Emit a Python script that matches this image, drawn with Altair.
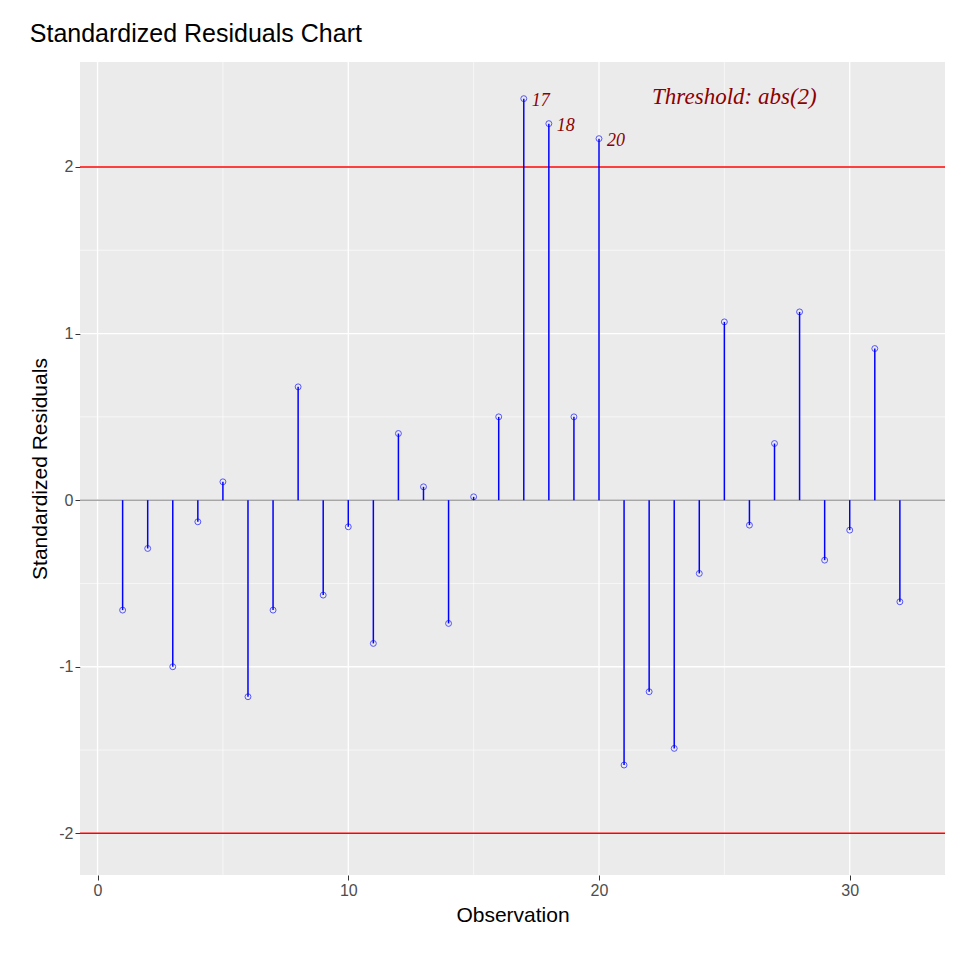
import altair as alt
import pandas as pd

obs = list(range(1, 33))
resid = [-0.66, -0.29, -1.0, -0.13, 0.11, -1.18, -0.66, 0.68, -0.57, -0.16,
         -0.86, 0.40, 0.08, -0.74, 0.02, 0.50, 2.41, 2.26, 0.50, 2.17,
         -1.59, -1.15, -1.49, -0.44, 1.07, -0.15, 0.34, 1.13, -0.36, -0.18,
         0.91, -0.61]
outlier_obs = [17, 18, 20]
thresholds = [-2, 2]
x_major = [0, 10, 20, 30]
x_minor = [5, 15, 25]
y_major = [-2, -1, 0, 1, 2]
y_minor = [-1.5, -0.5, 0.5, 1.5]

df = pd.DataFrame({"obs": obs, "resid": resid, "zero": 0})
out = df[df["obs"].isin(outlier_obs)].copy()
out["lab"] = out["obs"].astype(str)

lab_expr = "datum.value < 0 ? '-' + abs(datum.value) : '' + datum.value"
xs = alt.Scale(domain=[-0.7, 33.8], nice=False, zero=False)
ys = alt.Scale(domain=[-2.25, 2.63], nice=False)
common = dict(grid=False, labelFontSize=16, titleFontSize=21, titleFontWeight="normal",
              labelColor="#4D4D4D", tickColor="#333333", domain=False, titleColor="black",
              labelFont="Liberation Sans", titleFont="Liberation Sans", labelExpr=lab_expr,
              tickSize=5)
xax = alt.Axis(values=x_major, title="Observation", titlePadding=6, **common)
yax = alt.Axis(values=y_major, title="Standardized Residuals", titlePadding=8, **common)

def vgrid(vals, w):
    return alt.Chart(pd.DataFrame({"v": vals})).mark_rule(color="white", strokeWidth=w).encode(
        x=alt.X("v:Q", scale=xs, axis=xax))

def hgrid(vals, w):
    return alt.Chart(pd.DataFrame({"v": vals})).mark_rule(color="white", strokeWidth=w).encode(
        y=alt.Y("v:Q", scale=ys, axis=yax))

base = alt.Chart(df)
zero = alt.Chart(pd.DataFrame({"v": [0]})).mark_rule(color="#A6A6A6", strokeWidth=1.5).encode(
    y=alt.Y("v:Q", scale=ys))
thr = alt.Chart(pd.DataFrame({"v": thresholds})).mark_rule(color="red", strokeWidth=1.5).encode(
    y=alt.Y("v:Q", scale=ys))
stems = base.mark_rule(color="blue", strokeWidth=1.5).encode(
    x=alt.X("obs:Q", scale=xs), y=alt.Y("zero:Q", scale=ys), y2="resid:Q")
pts = base.mark_point(shape="circle", color="blue", size=35, strokeWidth=0.9).encode(
    x=alt.X("obs:Q", scale=xs), y=alt.Y("resid:Q", scale=ys))
labs = alt.Chart(out).mark_text(align="left", dx=8, dy=2, font="Liberation Serif",
                                fontStyle="italic", fontSize=18, color="#8B0000").encode(
    x=alt.X("obs:Q", scale=xs), y=alt.Y("resid:Q", scale=ys), text="lab:N")
note = alt.Chart(pd.DataFrame({"x": [25.4], "y": [2.42], "t": ["Threshold: abs(2)"]})).mark_text(
    font="Liberation Serif", fontStyle="italic", fontSize=23, color="#8B0000").encode(
    x=alt.X("x:Q", scale=xs), y=alt.Y("y:Q", scale=ys), text="t:N")

chart = alt.layer(
    vgrid(x_minor, 0.6), vgrid(x_major, 1.3), hgrid(y_minor, 0.6), hgrid(y_major, 1.3),
    zero, thr, stems, pts, labs, note
).properties(
    width=865, height=813,
    autosize=alt.AutoSizeParams(type="none"),
    padding={"left": 72, "top": 54, "right": 7, "bottom": 77},
    title=alt.TitleParams("Standardized Residuals Chart", anchor="start", fontSize=25,
                          fontWeight="normal", font="Liberation Sans", color="black", offset=14),
    background="white"
).configure_view(fill="#EBEBEB", stroke=None)

chart.save("out.html", embed_options={"renderer": "svg", "actions": False})
